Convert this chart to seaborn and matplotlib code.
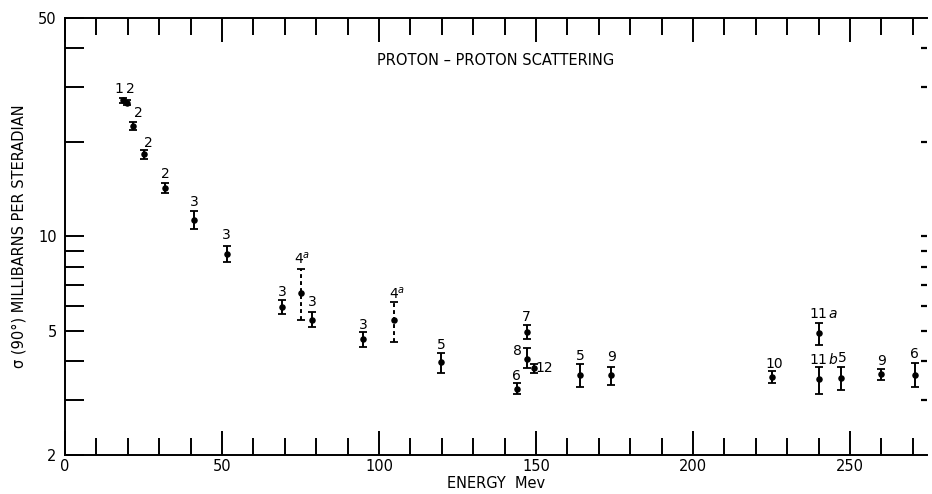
import numpy as np
import pandas as pd
import matplotlib
matplotlib.use("Agg")
import matplotlib.pyplot as plt
from matplotlib.ticker import FixedLocator, FixedFormatter, NullFormatter, MultipleLocator
import seaborn as sns

# ─────────────────────────────────────────────
# DONNÉES
# ─────────────────────────────────────────────
ENERGY = [18.5, 19.7, 21.8, 25.2, 31.9, 41.1, 51.5, 69.2, 75.0, 78.6, 95.0, 104.9,
          119.7, 143.8, 147.0, 147.0, 149.5, 164.0, 173.9, 225.0, 240.1, 240.1,
          247.0, 260.0, 270.7]
SIGMA = [27.3, 26.8, 22.6, 18.3, 14.3, 11.3, 8.8, 5.96, 6.61, 5.41, 4.69, 5.41,
         3.98, 3.25, 4.95, 4.06, 3.79, 3.61, 3.61, 3.54, 4.90, 3.49,
         3.53, 3.62, 3.61]
SIGMA_HI = [27.8, 27.3, 23.25, 18.9, 14.85, 12.1, 9.3, 6.27, 7.9, 5.75, 4.95, 6.18,
            4.25, 3.39, 5.21, 4.39, 3.91, 3.91, 3.83, 3.72, 5.30, 3.83,
            3.82, 3.76, 3.95]
SIGMA_LO = [26.8, 26.3, 21.95, 17.7, 13.75, 10.6, 8.3, 5.65, 5.41, 5.12, 4.44, 4.61,
            3.65, 3.13, 4.69, 3.79, 3.67, 3.31, 3.35, 3.41, 4.50, 3.13,
            3.24, 3.48, 3.29]
REF_LABELS = ["1", "2", "2", "2", "2", "3", "3", "3", "4$^{a}$", "3", "3", "4$^{a}$",
              "5", "6", "7", "8", "12", "5", "9", "10", "11$\\,a$", "11$\\,b$",
              "5", "9", "6"]
DASHED = ["4$^{a}$"]  # références tracées en tirets

# décalage des étiquettes (pixels, par rapport au haut de la barre d'erreur)
LABEL_OFFSETS = [(-4, 9), (4, 11), (5, 9), (4, 7), (0, 9), (0, 9), (0, 11), (0, 8),
                 (2, 10), (0, 10), (0, 7), (3, 8), (0, 8), (0, 7), (0, 8), (-9, -3),
                 (10, -4), (0, 8), (0, 10), (3, 7), (5, 9), (5, 7), (2, 9), (0, 8),
                 (-1, 9)]

X_TICKS = [0, 50, 100, 150, 200, 250]
Y_MAJOR = [2, 5, 10, 50]
Y_MINOR = [3, 4, 6, 7, 8, 9, 20, 30, 40]

df = pd.DataFrame({"energy": ENERGY, "sigma": SIGMA, "hi": SIGMA_HI,
                   "lo": SIGMA_LO, "ref": REF_LABELS})
df["dashed"] = df["ref"].isin(DASHED)

# ─────────────────────────────────────────────
# FIGURE
# ─────────────────────────────────────────────
sns.set_style("ticks")
plt.rcParams["font.family"] = ["DejaVu Sans"]
plt.rcParams["xtick.direction"] = "in"
plt.rcParams["ytick.direction"] = "in"
for key in ["text.color", "axes.labelcolor", "xtick.color", "ytick.color",
            "axes.edgecolor"]:
    plt.rcParams[key] = "black"

fig = plt.figure(figsize=(9.32, 4.94), dpi=100)
ax = fig.add_axes([65 / 932, 39 / 494, 862 / 932, 437 / 494])

for dashed, grp in df.groupby("dashed"):
    eb = ax.errorbar(grp["energy"], grp["sigma"],
                     yerr=[grp["sigma"] - grp["lo"], grp["hi"] - grp["sigma"]],
                     fmt="none", ecolor="black", elinewidth=1.4,
                     capsize=2.6, capthick=1.3, zorder=2)
    if dashed:
        eb[2][0].set_linestyle((0, (2.0, 1.6)))

sns.scatterplot(data=df, x="energy", y="sigma", ax=ax, color="black",
                s=22, edgecolor="black", linewidth=0, zorder=3, legend=False)

for i, row in df.iterrows():
    dx, dy = LABEL_OFFSETS[i]
    ax.annotate(row["ref"], xy=(row["energy"], row["hi"]),
                xytext=(dx * 0.72, dy * 0.72), textcoords="offset points",
                ha="center", va="center", fontsize=10)

ax.text(137, 36.5, "PROTON – PROTON SCATTERING", ha="center", va="center",
        fontsize=10.5)

# axes
ax.set_yscale("log")
ax.set_xlim(0, 274.5)
ax.set_ylim(2, 50)
ax.xaxis.set_major_locator(FixedLocator(X_TICKS))
ax.xaxis.set_minor_locator(MultipleLocator(10))
ax.yaxis.set_major_locator(FixedLocator(Y_MAJOR))
ax.yaxis.set_major_formatter(FixedFormatter([str(v) for v in Y_MAJOR]))
ax.yaxis.set_minor_locator(FixedLocator(Y_MINOR))
ax.yaxis.set_minor_formatter(NullFormatter())

ax.tick_params(axis="x", which="major", top=True, bottom=True, length=17,
               width=1.4, labelsize=10.5, pad=3)
ax.tick_params(axis="x", which="minor", top=True, bottom=True, length=12,
               width=1.4)
ax.tick_params(axis="y", which="both", left=True, right=False, length=13.5,
               width=1.4, labelsize=10.5, pad=6)

for side in ["left", "top", "bottom"]:
    ax.spines[side].set_linewidth(1.4)
ax.spines["right"].set_visible(False)

# petites graduations du côté droit
ax2 = ax.twinx()
ax2.set_yscale("log")
ax2.set_ylim(2, 50)
ax2.yaxis.set_major_locator(FixedLocator(Y_MAJOR[1:-1] + Y_MINOR))
ax2.yaxis.set_major_formatter(NullFormatter())
ax2.yaxis.set_minor_locator(FixedLocator([]))
ax2.tick_params(axis="y", which="both", right=True, length=4, width=1.6)
for side in ["left", "top", "bottom", "right"]:
    ax2.spines[side].set_visible(False)

ax.set_xlabel("ENERGY  Mev", fontsize=10.5, labelpad=1)
ax.set_ylabel("σ (90°) MILLIBARNS PER STERADIAN", fontsize=10.5, labelpad=8)

fig.savefig("out.png", dpi=100)
plt.close(fig)
